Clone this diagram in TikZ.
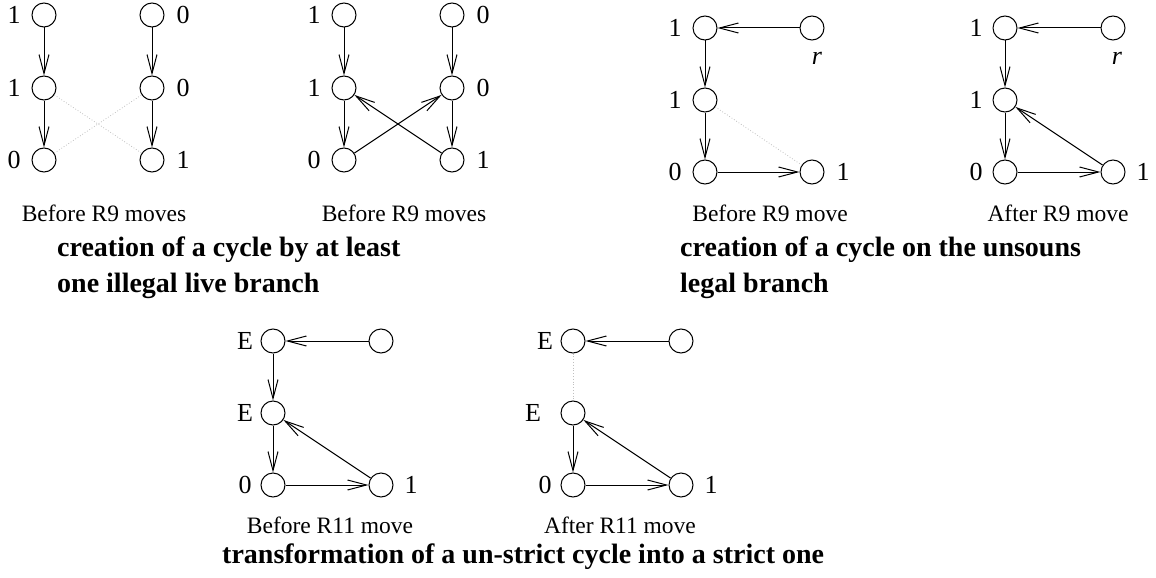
\documentclass[tikz,border=0pt]{standalone}
\usepackage{fontspec}
\setmainfont{Liberation Serif}
\usetikzlibrary{arrows.meta}
\begin{document}
\begin{tikzpicture}[x=1pt,y=-1pt,
  vtx/.style={circle,draw,line width=1pt,minimum size=24pt,inner sep=0pt},
  lab/.style={font=\fontsize{26}{26}\selectfont,inner sep=0pt},
  captxt/.style={font=\fontsize{23.5}{23.5}\selectfont,inner sep=0pt,anchor=base},
  ttl/.style={font=\fontsize{28}{30}\selectfont\bfseries,inner sep=0pt,anchor=base west},
  arr/.style={-{Straight Barb[length=19pt,width=10pt]},line width=1pt},
  dotline/.style={dotted,black!25,line width=0.8pt}]
\useasboundingbox (0,0) rectangle (1156,578);
% ---- panel 1
\foreach \n/\x/\y in {a1/44/15,a2/44/88,a3/44/160,b1/152/15,b2/152/88,b3/152/160}
  \node[vtx] (\n) at (\x,\y) {};
\node[lab] (la1) at (14,15) {1};
\node[lab] (la2) at (14,88) {1};
\node[lab] (la3) at (14,160) {0};
\node[lab] (lb1) at (183,15) {0};
\node[lab] (lb2) at (183,88) {0};
\node[lab] (lb3) at (183,160) {1};
\draw[arr] (a1)--(a2);
\draw[arr] (a2)--(a3);
\draw[arr] (b1)--(b2);
\draw[arr] (b2)--(b3);
\draw[dotline] (a2)--(b3);
\draw[dotline] (a3)--(b2);
% ---- panel 2
\foreach \n/\x/\y in {c1/344/15,c2/344/88,c3/344/160,d1/452/15,d2/452/88,d3/452/160}
  \node[vtx] (\n) at (\x,\y) {};
\node[lab] (lc1) at (314,15) {1};
\node[lab] (lc2) at (314,88) {1};
\node[lab] (lc3) at (314,160) {0};
\node[lab] (ld1) at (483,15) {0};
\node[lab] (ld2) at (483,88) {0};
\node[lab] (ld3) at (483,160) {1};
\draw[arr] (c1)--(c2);
\draw[arr] (c2)--(c3);
\draw[arr] (d1)--(d2);
\draw[arr] (d2)--(d3);
\draw[arr] (c3)--(d2);
\draw[arr] (d3)--(c2);
% ---- panel 3
\foreach \n/\x/\y in {e1/705/28,e2/705/100,e3/705/172,f1/812/28,f3/812/172}
  \node[vtx] (\n) at (\x,\y) {};
\node[lab] (le1) at (675,28) {1};
\node[lab] (le2) at (675,100) {1};
\node[lab] (le3) at (675,172) {0};
\node[lab] (lf3) at (843,172) {1};
\node[lab] (lf1) at (817,58) {\itshape r};
\draw[arr] (f1)--(e1);
\draw[arr] (e1)--(e2);
\draw[arr] (e2)--(e3);
\draw[arr] (e3)--(f3);
\draw[dotline] (e2)--(f3);
% ---- panel 4
\foreach \n/\x/\y in {g1/1005/28,g2/1005/100,g3/1005/172,h1/1113/28,h3/1113/172}
  \node[vtx] (\n) at (\x,\y) {};
\node[lab] (lg1) at (976,28) {1};
\node[lab] (lg2) at (976,100) {1};
\node[lab] (lg3) at (976,172) {0};
\node[lab] (lh3) at (1143,172) {1};
\node[lab] (lh1) at (1117,58) {\itshape r};
\draw[arr] (h1)--(g1);
\draw[arr] (g1)--(g2);
\draw[arr] (g2)--(g3);
\draw[arr] (g3)--(h3);
\draw[arr] (h3)--(g2);
% ---- panel 5
\foreach \n/\x/\y in {i1/273/341,i2/273/413,i3/273/485,j1/381/341,j3/381/485}
  \node[vtx] (\n) at (\x,\y) {};
\node[lab] (li1) at (245,341) {E};
\node[lab] (li2) at (245,413) {E};
\node[lab] (li3) at (245,485) {0};
\node[lab] (lj3) at (411,485) {1};
\draw[arr] (j1)--(i1);
\draw[arr] (i1)--(i2);
\draw[arr] (i2)--(i3);
\draw[arr] (i3)--(j3);
\draw[arr] (j3)--(i2);
% ---- panel 6
\foreach \n/\x/\y in {k1/573/341,k2/573/413,k3/573/485,m1/681/341,m3/681/485}
  \node[vtx] (\n) at (\x,\y) {};
\node[lab] (lk1) at (545,341) {E};
\node[lab] (lk2) at (533,413) {E};
\node[lab] (lk3) at (545,485) {0};
\node[lab] (lm3) at (711,485) {1};
\draw[arr] (m1)--(k1);
\draw[dotline] (k1)--(k2);
\draw[arr] (k2)--(k3);
\draw[arr] (k3)--(m3);
\draw[arr] (m3)--(k2);
% ---- captions
\node[captxt] (cp1) at (104,221) {Before R9 moves};
\node[captxt] (cp2) at (404,221) {Before R9 moves};
\node[captxt] (cp3) at (770,221) {Before R9 move};
\node[captxt] (cp4) at (1058,221) {After R9 move};
\node[captxt] (cp5) at (330,533) {Before R11 move};
\node[captxt] (cp6) at (620,533) {After R11 move};
% ---- titles
\node[ttl] (t1a) at (57,256) {creation of a cycle by at least};
\node[ttl] (t1b) at (57,292) {one illegal live branch};
\node[ttl] (t2a) at (680,256) {creation of a cycle on the unsouns};
\node[ttl] (t2b) at (680,292) {legal branch};
\node[ttl] (t3) at (222,563) {transformation of a un-strict cycle into a strict one};
\end{tikzpicture}
\end{document}
